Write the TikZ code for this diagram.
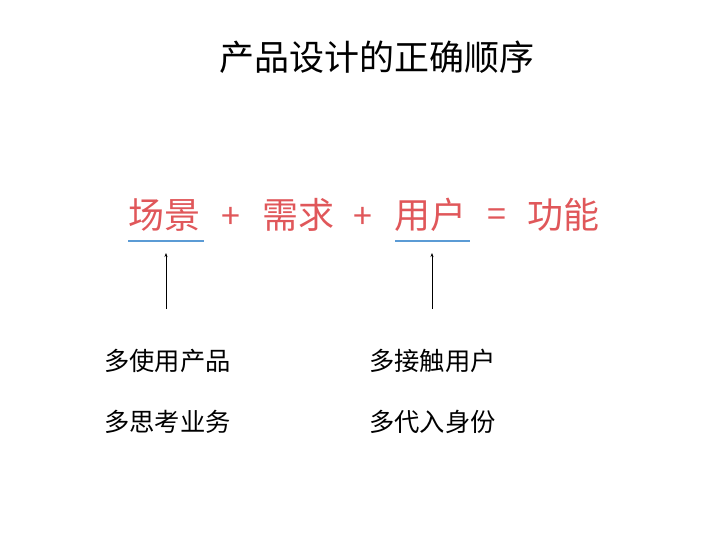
\documentclass[tikz,border=0pt]{standalone}
\usepackage{fontspec}
\setmainfont{Noto Sans CJK SC}
\usetikzlibrary{arrows.meta}
\definecolor{redtxt}{HTML}{E0575A}
\definecolor{bluel}{HTML}{5B9BD5}
\tikzset{
  title/.style={font=\fontsize{35}{40}\selectfont, text=black, inner sep=0pt},
  redword/.style={font=\fontsize{36}{40}\selectfont, text=redtxt, inner sep=0pt},
  redsym/.style={font=\fontsize{34}{40}\selectfont, text=redtxt, inner sep=0pt},
  note/.style={font=\fontsize{25.3}{30}\selectfont, text=black, inner sep=0pt, anchor=west},
  uline/.style={draw=bluel, line width=1.1pt},
  arr/.style={-{Stealth[length=4pt,width=3pt]}, line width=0.8pt}
}
\begin{document}
\begin{tikzpicture}[x=1pt,y=-1pt]
\useasboundingbox (0,0) rectangle (720,540);
\node[title] (t) at (377,57) {产品设计的正确顺序};
\node[redword] (w1) at (164,215) {场景};
\node[redsym] (p1) at (231,218) {+};
\node[redword] (w2) at (298,215) {需求};
\node[redsym] (p2) at (363,218) {+};
\node[redword] (w3) at (430,215) {用户};
\node[redsym] (eq) at (497,218) {=};
\node[redword] (w4) at (563,215) {功能};
\coordinate (u1a) at (128,241); \coordinate (u1b) at (204,241);
\coordinate (u2a) at (395,241); \coordinate (u2b) at (470,241);
\draw[uline] (u1a) -- (u1b);
\draw[uline] (u2a) -- (u2b);
\coordinate (a1s) at (166,309); \coordinate (a1e) at (166,253);
\coordinate (a2s) at (432,309); \coordinate (a2e) at (432,253);
\draw[arr] (a1s) -- (a1e);
\draw[arr] (a2s) -- (a2e);
\node[note] (n1) at (104,361) {多使用产品};
\node[note] (n2) at (104,422) {多思考业务};
\node[note] (n3) at (369,361) {多接触用户};
\node[note] (n4) at (369,422) {多代入身份};
\end{tikzpicture}
\end{document}
